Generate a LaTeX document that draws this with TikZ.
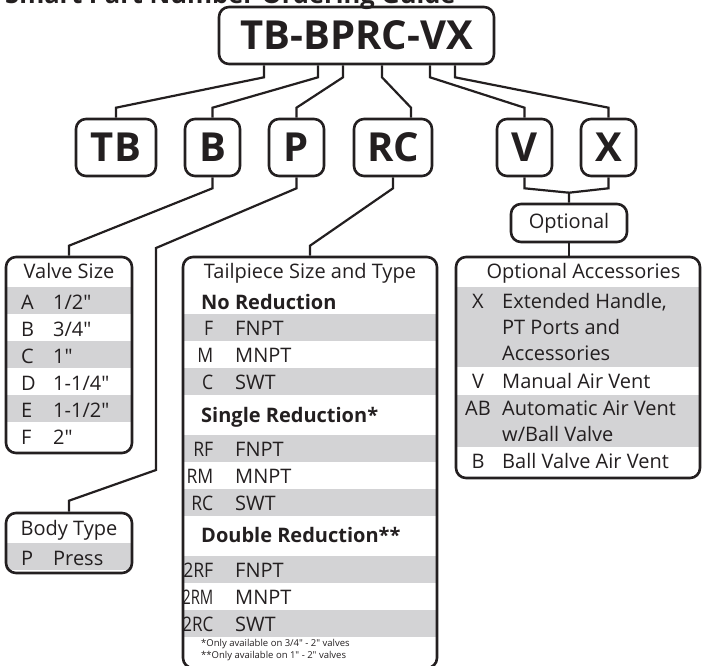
\documentclass[tikz,border=0pt]{standalone}
\usepackage{fontspec}
\setmainfont{Open Sans}[Ligatures=TeXOff]

\definecolor{ink}{RGB}{35,31,32}
\definecolor{rowgray}{RGB}{211,211,213}

\tikzset{
	box/.style = {draw=ink, line width=2.6pt, rounded corners=10pt, inner sep=0pt},
	link/.style = {draw=ink, line width=2.2pt},
	band/.style = {fill=rowgray},
	part/.style = {box, minimum width=55pt, minimum height=57pt, text=ink, font=\fontsize{40}{40}\selectfont\bfseries},
	txt/.style = {inner sep=0pt, text=ink, font=\fontsize{20}{24}\selectfont},
	hd/.style = {txt, font=\fontsize{20}{24}\selectfont\bfseries},
	note/.style = {inner sep=0pt, text=ink, font=\fontsize{9.5}{11}\selectfont},
}

\begin{document}
\begin{tikzpicture}[x=1pt, y=-1pt]
	\useasboundingbox (0,0) rectangle (702,665);

	\node [anchor=base west, inner sep=0pt, text=ink, font=\fontsize{25.5}{26}\selectfont\bfseries] (title) at (5,3.5) {Smart Part Number Ordering Guide};

	\node [part, minimum width=275pt] (pn) at (356.5,35.5) {TB-BPRC-VX};

	\node [part, minimum width=80pt] (tb) at (116,147.5) {TB};
	\node [part] (b) at (212.5,147.5) {B};
	\node [part] (p) at (296.5,147.5) {P};
	\node [part, minimum width=78pt] (rc) at (393,147.5) {RC};
	\node [part] (v) at (524.5,147.5) {V};
	\node [part] (x) at (608.5,147.5) {X};

	\node [box, txt, minimum width=116pt, minimum height=38pt] (opt) at (569,223) {Optional};

	% stems from the part number
	\draw [link] ([xshift=-92.5pt]pn.south) -- ++(0,12) -- ([yshift=10pt]tb.north) -- (tb.north);
	\draw [link] ([xshift=-38.5pt]pn.south) -- ++(0,12) -- ([yshift=10pt]b.north) -- (b.north);
	\draw [link] ([xshift=-13.5pt]pn.south) -- ++(0,12) -- ([yshift=10pt]p.north) -- (p.north);
	\draw [link] ([xshift=25.5pt]pn.south) -- ++(0,12) -- ([xshift=18pt, yshift=10pt]rc.north) -- ([xshift=18pt]rc.north);
	\draw [link] ([xshift=73.5pt]pn.south) -- ++(0,12) -- ([yshift=10pt]v.north) -- (v.north);
	\draw [link] ([xshift=98.5pt]pn.south) -- ++(0,12) -- ([yshift=10pt]x.north) -- (x.north);

	% valve size
	\foreach \y in {287,341,395}
		\fill [band] (6,\y) rectangle (132,\y+27);
	\node [box, minimum width=126pt, minimum height=196pt] (vs) at (69,355) {};
	\node [txt, anchor=base] (vs-head) at (69,278) {Valve Size};
	\foreach \c/\v [count=\i] in {A/{1/2"},B/{3/4"},C/{1"},D/{1-1/4"},E/{1-1/2"},F/{2"}} {
		\node [txt, anchor=base west] (vs-c\i) at (21,282+27*\i) {\c};
		\node [txt, anchor=base west] (vs-v\i) at (53,282+27*\i) {\v};
	}

	% body type
	\fill [band] (6,543) rectangle (132,570);
	\node [box, minimum width=126pt, minimum height=60pt] (bt) at (69,543) {};
	\node [txt, anchor=base] (bt-head) at (69,535) {Body Type};
	\node [txt, anchor=base west] (bt-c1) at (21,565) {P};
	\node [txt, anchor=base west] (bt-v1) at (53,565) {Press};

	% tailpiece
	\foreach \y in {314,368,435,489,556,610}
		\fill [band] (183,\y) rectangle (437,\y+27);
	\node [box, minimum width=254pt, minimum height=411pt] (tp) at (310,462.5) {};
	\node [txt, anchor=base] (tp-head) at (310,278) {Tailpiece Size and Type};
	\node [hd, anchor=base west] (tp-h1) at (201,309) {No Reduction};
	\node [hd, anchor=base west] (tp-h2) at (201,422) {Single Reduction*};
	\node [hd, anchor=base west] (tp-h3) at (201,542) {Double Reduction**};
	\foreach \c/\v/\y/\s [count=\i] in {F/FNPT/335/.88, M/MNPT/362/.88, C/SWT/389/.88, RF/FNPT/456/.88, RM/MNPT/483/.88, RC/SWT/510/.88, 2RF/FNPT/577/.88, 2RM/MNPT/604/.74, 2RC/SWT/631/.85} {
		\node [txt, anchor=base east] (tp-c\i) at (213.5,\y) {\scalebox{\s}[1]{\c}};
		\node [txt, anchor=base west] (tp-v\i) at (235,\y) {\v};
	}
	\node [note, anchor=base west] (tp-n1) at (201,646) {*Only available on 3/4" - 2" valves};
	\node [note, anchor=base west] (tp-n2) at (201,658) {**Only available on 1" - 2" valves};

	% optional accessories
	\fill [band] (456,287) rectangle (700,367);
	\fill [band] (456,395) rectangle (700,447);
	\node [box, minimum width=244pt, minimum height=221pt] (oa) at (578,367.5) {};
	\node [txt, anchor=base] (oa-head) at (583.5,278) {Optional Accessories};
	\foreach \c/\y [count=\i] in {X/308, V/388, AB/415, B/468}
		\node [txt, anchor=base] (oa-c\i) at (478,\y) {\c};
	\foreach \v/\y [count=\i] in {{Extended Handle,}/308, PT Ports and/334, Accessories/360, Manual Air Vent/388, Automatic Air Vent/415, {w/Ball Valve}/441, Ball Valve Air Vent/468}
		\node [txt, anchor=base west] (oa-v\i) at (502,\y) {\v};

	% links below the parts
	\draw [link] (b.south) -- ++(0,11) -- ([yshift=10pt]vs.north) -- (vs.north);
	\draw [link] (p.south) -- ++(0,11) -- (156,248) -- (156,470) -- ([yshift=11pt]bt.north) -- (bt.north);
	\draw [link] (rc.south) -- ++(0,11) -- ([yshift=10pt]tp.north) -- (tp.north);
	\coordinate (vx) at ([yshift=10pt]opt.north);
	\draw [link] (v.south) -- ++(0,11) -- (vx);
	\draw [link] (x.south) -- ++(0,11) -- (vx) -- (opt.north);
	\draw [link] (opt.south) -- (opt.south |- oa.north);
\end{tikzpicture}
\end{document}
